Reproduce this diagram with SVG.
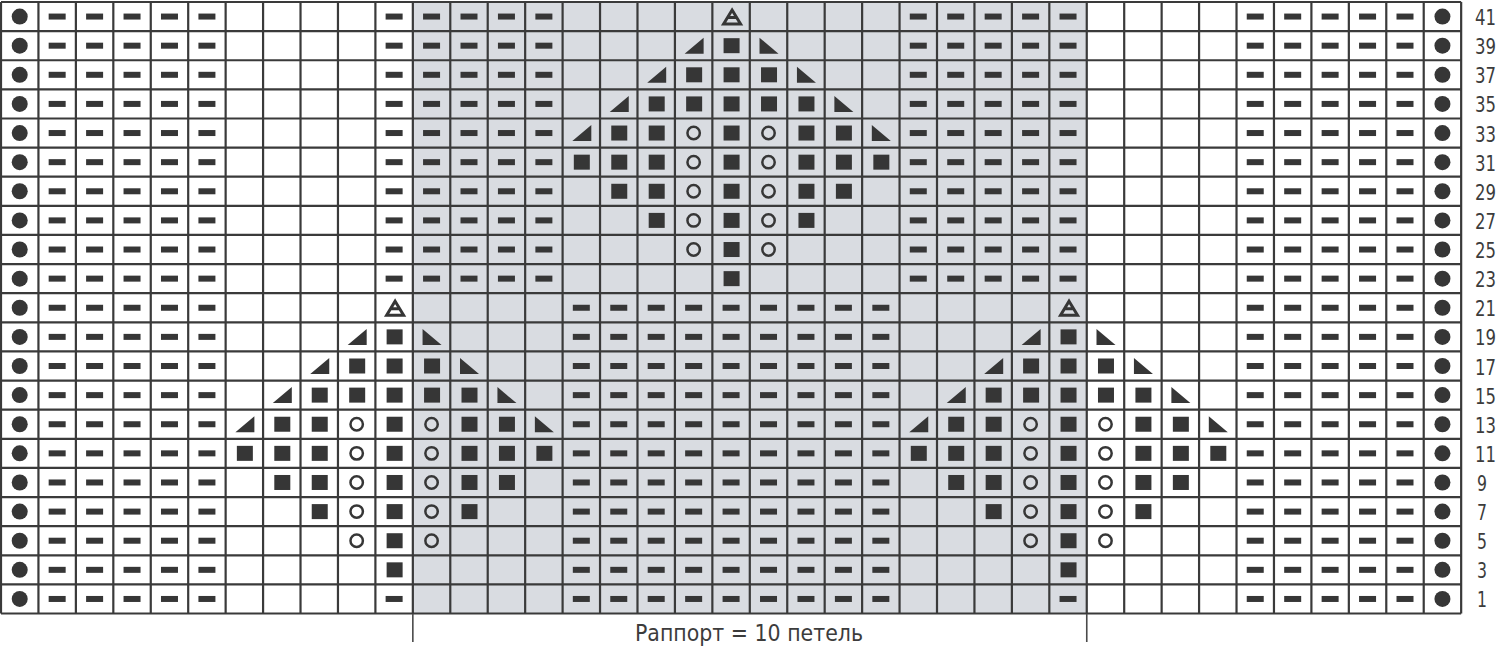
<svg xmlns="http://www.w3.org/2000/svg" xmlns:xlink="http://www.w3.org/1999/xlink" width="1500" height="649" viewBox="0 0 1500 649">
<style>
.ink{fill:#363636}
.ring{fill:none;stroke:#363636;stroke-width:2.5}
.tri{fill:none;stroke:#363636;stroke-width:3}
.grid{fill:none;stroke:#3a3a3a;stroke-width:2.2}
.num{font-family:"DejaVu Sans Condensed","DejaVu Sans",sans-serif;font-stretch:condensed;font-size:21px;fill:#3c3c3c}
.lbl{font-family:"DejaVu Sans Condensed","DejaVu Sans",sans-serif;font-stretch:condensed;font-size:23px;fill:#3c3c3c}
</style>
<defs>
<rect id="d" class="ink" x="-8.5" y="-3" width="17" height="6"/>
<rect id="s" class="ink" x="-7.5" y="-7.5" width="16" height="15"/>
<circle id="p" class="ink" cx="0" cy="0" r="8"/>
<circle id="o" class="ring" cx="0" cy="0" r="6.2"/>
<polygon id="l" class="ink" points="-9,8 10,8 10,-8"/>
<polygon id="r" class="ink" points="-9,-8 -9,8 10,8"/>
<g id="a"><path class="tri" d="M1,-6.5 L9.5,7.5 L-7.5,7.5 Z M-3.5,1 H5.5" stroke-linejoin="miter"/></g>
<g id="edges">
<use href="#p" x="19.72"/><use href="#d" x="57.16"/><use href="#d" x="94.6"/><use href="#d" x="132.04"/><use href="#d" x="169.48"/><use href="#d" x="206.92"/>
<use href="#d" x="1255.24"/><use href="#d" x="1292.68"/><use href="#d" x="1330.12"/><use href="#d" x="1367.56"/><use href="#d" x="1405"/><use href="#p" x="1442.44"/>
</g>
<g id="d5"><use href="#d" x="0"/><use href="#d" x="37.44"/><use href="#d" x="74.88"/><use href="#d" x="112.32"/><use href="#d" x="149.76"/></g>
<g id="d9"><use href="#d5"/><use href="#d" x="187.2"/><use href="#d" x="224.64"/><use href="#d" x="262.08"/><use href="#d" x="299.52"/></g>
<g id="rowTop"><use href="#edges"/><use href="#d5" x="394.12"/><use href="#d5" x="918.28"/></g>
<g id="rowBot"><use href="#edges"/><use href="#d9" x="581.32"/></g>
<g id="motif">
<use href="#a" x="0" y="0"/>
<use href="#l" x="-37.44" y="29.12"/><use href="#s" x="0" y="29.12"/><use href="#r" x="37.44" y="29.12"/>
<use href="#l" x="-74.88" y="58.24"/><use href="#s" x="-37.44" y="58.24"/><use href="#s" x="0" y="58.24"/><use href="#s" x="37.44" y="58.24"/><use href="#r" x="74.88" y="58.24"/>
<use href="#l" x="-112.32" y="87.36"/><use href="#s" x="-74.88" y="87.36"/><use href="#s" x="-37.44" y="87.36"/><use href="#s" x="0" y="87.36"/><use href="#s" x="37.44" y="87.36"/><use href="#s" x="74.88" y="87.36"/><use href="#r" x="112.32" y="87.36"/>
<use href="#l" x="-149.76" y="116.48"/><use href="#s" x="-112.32" y="116.48"/><use href="#s" x="-74.88" y="116.48"/><use href="#o" x="-37.44" y="116.48"/><use href="#s" x="0" y="116.48"/><use href="#o" x="37.44" y="116.48"/><use href="#s" x="74.88" y="116.48"/><use href="#s" x="112.32" y="116.48"/><use href="#r" x="149.76" y="116.48"/>
<use href="#s" x="-149.76" y="145.6"/><use href="#s" x="-112.32" y="145.6"/><use href="#s" x="-74.88" y="145.6"/><use href="#o" x="-37.44" y="145.6"/><use href="#s" x="0" y="145.6"/><use href="#o" x="37.44" y="145.6"/><use href="#s" x="74.88" y="145.6"/><use href="#s" x="112.32" y="145.6"/><use href="#s" x="149.76" y="145.6"/>
<use href="#s" x="-112.32" y="174.72"/><use href="#s" x="-74.88" y="174.72"/><use href="#o" x="-37.44" y="174.72"/><use href="#s" x="0" y="174.72"/><use href="#o" x="37.44" y="174.72"/><use href="#s" x="74.88" y="174.72"/><use href="#s" x="112.32" y="174.72"/>
<use href="#s" x="-74.88" y="203.84"/><use href="#o" x="-37.44" y="203.84"/><use href="#s" x="0" y="203.84"/><use href="#o" x="37.44" y="203.84"/><use href="#s" x="74.88" y="203.84"/>
<use href="#o" x="-37.44" y="232.96"/><use href="#s" x="0" y="232.96"/><use href="#o" x="37.44" y="232.96"/>
<use href="#s" x="0" y="262.08"/>
</g>
</defs>
<rect x="0" y="0" width="1500" height="649" fill="#ffffff"/>
<rect id="repeat-bg" x="412.84" y="2" width="673.92" height="611.52" fill="#d9dce1"/>
<g id="symbols">
<use href="#rowTop" y="16.56"/><use href="#rowTop" y="45.68"/><use href="#rowTop" y="74.8"/><use href="#rowTop" y="103.92"/><use href="#rowTop" y="133.04"/>
<use href="#rowTop" y="162.16"/><use href="#rowTop" y="191.28"/><use href="#rowTop" y="220.4"/><use href="#rowTop" y="249.52"/><use href="#rowTop" y="278.64"/>
<use href="#rowBot" y="307.76"/><use href="#rowBot" y="336.88"/><use href="#rowBot" y="366"/><use href="#rowBot" y="395.12"/><use href="#rowBot" y="424.24"/>
<use href="#rowBot" y="453.36"/><use href="#rowBot" y="482.48"/><use href="#rowBot" y="511.6"/><use href="#rowBot" y="540.72"/><use href="#rowBot" y="569.84"/><use href="#rowBot" y="598.96"/>
<use href="#d" x="394.12" y="598.96"/><use href="#d" x="1068.04" y="598.96"/>
<use id="motif-top" href="#motif" x="731.08" y="16.56"/>
<use id="motif-left" href="#motif" x="394.12" y="307.76"/>
<use id="motif-right" href="#motif" x="1068.04" y="307.76"/>
</g>
<path id="grid" class="grid" d="M1,2V613.5M38.44,2V613.5M75.88,2V613.5M113.32,2V613.5M150.76,2V613.5M188.2,2V613.5M225.64,2V613.5M263.08,2V613.5M300.52,2V613.5M337.96,2V613.5M375.4,2V613.5M412.84,2V613.5M450.28,2V613.5M487.72,2V613.5M525.16,2V613.5M562.6,2V613.5M600.04,2V613.5M637.48,2V613.5M674.92,2V613.5M712.36,2V613.5M749.8,2V613.5M787.24,2V613.5M824.68,2V613.5M862.12,2V613.5M899.56,2V613.5M937,2V613.5M974.44,2V613.5M1011.88,2V613.5M1049.32,2V613.5M1086.76,2V613.5M1124.2,2V613.5M1161.64,2V613.5M1199.08,2V613.5M1236.52,2V613.5M1273.96,2V613.5M1311.4,2V613.5M1348.84,2V613.5M1386.28,2V613.5M1423.72,2V613.5M1461.16,2V613.5
M1,2H1461.16M1,31.12H1461.16M1,60.24H1461.16M1,89.36H1461.16M1,118.48H1461.16M1,147.6H1461.16M1,176.72H1461.16M1,205.84H1461.16M1,234.96H1461.16M1,264.08H1461.16M1,293.2H1461.16M1,322.32H1461.16M1,351.44H1461.16M1,380.56H1461.16M1,409.68H1461.16M1,438.8H1461.16M1,467.92H1461.16M1,497.04H1461.16M1,526.16H1461.16M1,555.28H1461.16M1,584.4H1461.16M1,613.52H1461.16"/>
<g id="row-numbers" class="num">
<text x="1475" y="25" textLength="21" lengthAdjust="spacingAndGlyphs">41</text>
<text x="1475" y="54.1" textLength="21" lengthAdjust="spacingAndGlyphs">39</text>
<text x="1475" y="83.2" textLength="21" lengthAdjust="spacingAndGlyphs">37</text>
<text x="1475" y="112.4" textLength="21" lengthAdjust="spacingAndGlyphs">35</text>
<text x="1475" y="141.5" textLength="21" lengthAdjust="spacingAndGlyphs">33</text>
<text x="1475" y="170.6" textLength="21" lengthAdjust="spacingAndGlyphs">31</text>
<text x="1475" y="199.7" textLength="21" lengthAdjust="spacingAndGlyphs">29</text>
<text x="1475" y="228.8" textLength="21" lengthAdjust="spacingAndGlyphs">27</text>
<text x="1475" y="258" textLength="21" lengthAdjust="spacingAndGlyphs">25</text>
<text x="1475" y="287.1" textLength="21" lengthAdjust="spacingAndGlyphs">23</text>
<text x="1475" y="316.2" textLength="21" lengthAdjust="spacingAndGlyphs">21</text>
<text x="1475" y="345.3" textLength="21" lengthAdjust="spacingAndGlyphs">19</text>
<text x="1475" y="374.5" textLength="21" lengthAdjust="spacingAndGlyphs">17</text>
<text x="1475" y="403.6" textLength="21" lengthAdjust="spacingAndGlyphs">15</text>
<text x="1475" y="432.7" textLength="21" lengthAdjust="spacingAndGlyphs">13</text>
<text x="1475" y="461.8" textLength="21" lengthAdjust="spacingAndGlyphs">11</text>
<text x="1477" y="490.9" textLength="10" lengthAdjust="spacingAndGlyphs">9</text>
<text x="1477" y="520.1" textLength="10" lengthAdjust="spacingAndGlyphs">7</text>
<text x="1477" y="549.2" textLength="10" lengthAdjust="spacingAndGlyphs">5</text>
<text x="1477" y="578.3" textLength="10" lengthAdjust="spacingAndGlyphs">3</text>
<text x="1477" y="607.4" textLength="10" lengthAdjust="spacingAndGlyphs">1</text>
</g>
<g id="rapport">
<path d="M412.84,614V642M1086.76,614V642" stroke="#4a4a4a" stroke-width="1.6" fill="none"/>
<text class="lbl" x="635" y="641" textLength="228" lengthAdjust="spacingAndGlyphs">Раппорт = 10 петель</text>
</g>
</svg>
